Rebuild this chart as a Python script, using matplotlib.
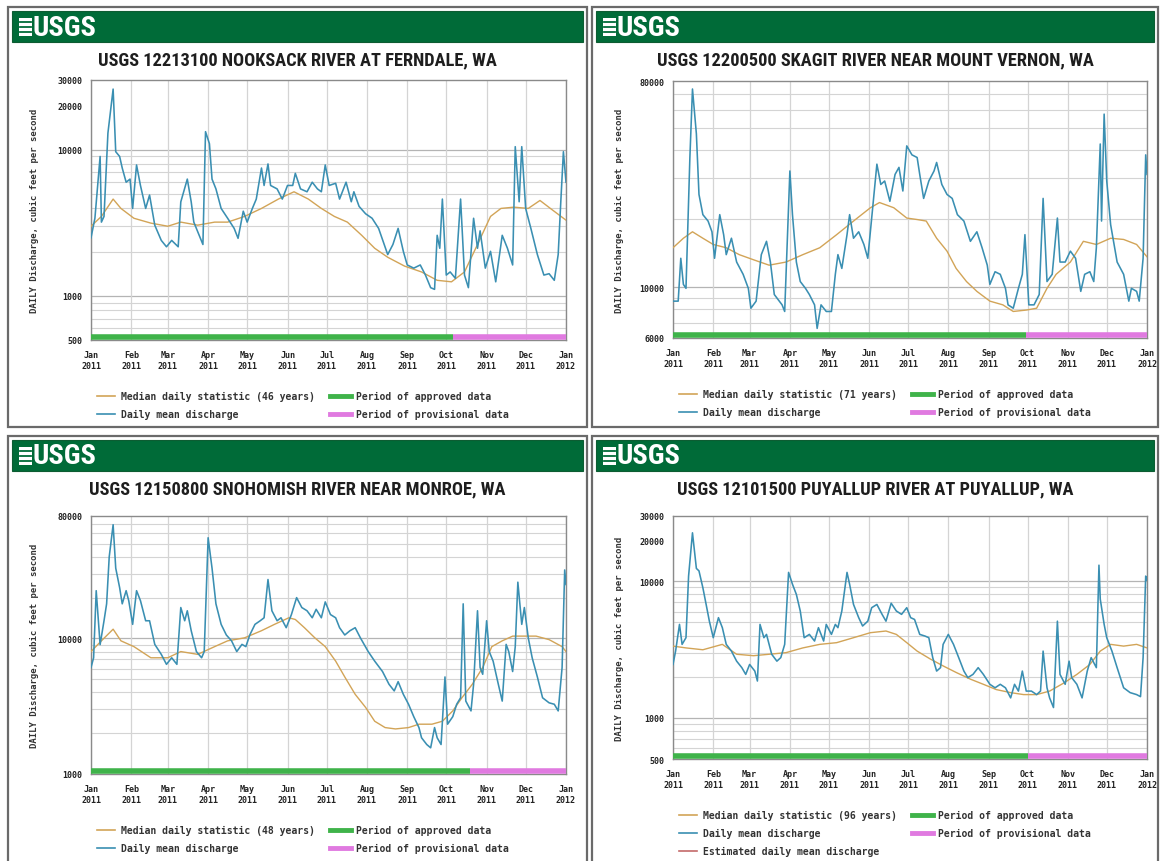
import numpy as np
import matplotlib
matplotlib.use("Agg")
import matplotlib.pyplot as plt
from matplotlib.patches import Rectangle
from matplotlib.lines import Line2D
from matplotlib.ticker import FixedLocator, LogLocator, NullFormatter
from matplotlib import font_manager

# ---------------------------------------------------------------- data
month_days = [0, 31, 59, 90, 120, 151, 181, 212, 243, 273, 304, 334, 365]
month_labels = ['Jan\n2011', 'Feb\n2011', 'Mar\n2011', 'Apr\n2011', 'May\n2011',
                'Jun\n2011', 'Jul\n2011', 'Aug\n2011', 'Sep\n2011', 'Oct\n2011',
                'Nov\n2011', 'Dec\n2011', 'Jan\n2012']

# Nooksack River at Ferndale
nooksack_title = 'USGS 12213100 NOOKSACK RIVER AT FERNDALE, WA'
nooksack_years = 46
nooksack_ylim = (500, 30000)
nooksack_yticks = [500, 1000, 10000, 20000, 30000]
nooksack_days = [0, 3, 7, 8, 10, 13, 17, 19, 22, 24, 27, 30, 32, 35, 38, 42, 45, 49, 54, 58,
                 62, 67, 69, 74, 77, 79, 86, 88, 91, 93, 96, 100, 105, 110, 113, 117, 120, 124, 127, 131,
                 133, 136, 138, 143, 147, 151, 155, 157, 161, 166, 170, 174, 177, 180, 183, 188, 191, 196, 200, 202,
                 206, 211, 216, 221, 228, 232, 236, 240, 243, 248, 253, 257, 261, 264, 266, 268, 270, 273, 276, 280,
                 284, 287, 290, 294, 297, 299, 303, 307, 311, 316, 320, 324, 326, 329, 331, 334, 338, 343, 348, 352,
                 356, 359, 361, 363, 365]
nooksack_flow = [2500, 3400, 9000, 3200, 3500, 13000, 26000, 9700, 9000, 7500,
                 6000, 6300, 3970, 7870, 5700, 3970, 4900, 3050, 2400, 2170,
                 2400, 2170, 4400, 6300, 4400, 3200, 2250, 13300, 11000, 6300,
                 5400, 3970, 3400, 2900, 2480, 3800, 3200, 3970, 4600, 7500,
                 5700, 8000, 5700, 5400, 4600, 5700, 5700, 6900, 5400, 5160,
                 6000, 5400, 5160, 7870, 5700, 5900, 4600, 6000, 4410, 5160,
                 4100, 3650, 3400, 2900, 1920, 2250, 2900, 2020, 1630, 1550,
                 1630, 1390, 1140, 1110, 2600, 2120, 4600, 1390, 1460, 1320,
                 4600, 1390, 1140, 3400, 2120, 2790, 1550, 2020, 1250, 2600,
                 2120, 1630, 10500, 4410, 10500, 3970, 2900, 1920, 1390, 1420,
                 1280, 1920, 4410, 9700, 6000]
nooksack_median_days = [0, 8, 17, 23, 33, 46, 59, 69, 82, 95, 105, 118, 131, 144, 156, 167, 177, 187,
                        197, 208, 218, 228, 241, 254, 266, 277, 287, 297, 307, 315, 325, 336, 345, 353, 365]
nooksack_median = [3000, 3500, 4600, 3970, 3400, 3150, 3000, 3200, 3050, 3200, 3200, 3500, 3970, 4600,
                   5160, 4600, 3970, 3500, 3200, 2600, 2120, 1840, 1600, 1460, 1280, 1250, 1460, 2250,
                   3500, 3970, 4050, 3970, 4500, 3970, 3300]
nooksack_approved_end = 278

# Skagit River near Mount Vernon
skagit_title = 'USGS 12200500 SKAGIT RIVER NEAR MOUNT VERNON, WA'
skagit_years = 71
skagit_ylim = (6000, 80000)
skagit_yticks = [6000, 10000, 80000]
skagit_days = [0, 4, 6, 8, 10, 13, 15, 18, 20, 23, 27, 30, 32, 36, 39, 41, 45, 49, 54, 58,
               60, 64, 68, 72, 75, 78, 84, 86, 90, 92, 95, 98, 102, 105, 109, 111, 114, 118, 122, 125,
               127, 130, 134, 136, 139, 143, 147, 150, 153, 157, 160, 163, 167, 171, 174, 177, 180, 184, 188, 190,
               193, 197, 201, 203, 207, 211, 215, 219, 224, 229, 234, 238, 242, 244, 248, 252, 256, 258, 262, 266,
               269, 271, 274, 278, 282, 285, 288, 292, 296, 298, 302, 306, 310, 314, 317, 321, 324, 326, 329, 330,
               332, 334, 337, 342, 347, 351, 353, 357, 359, 362, 364, 365]
skagit_flow = [8700, 8700, 13400, 10300, 9900, 37000, 73800, 47000, 25500, 20800,
               19500, 17500, 13400, 20800, 17000, 13900, 16400, 12900, 11400, 9900,
               8100, 8700, 13900, 15900, 12900, 9300, 8380, 7840, 32300, 20800,
               12900, 10600, 9900, 9300, 8380, 6610, 8380, 7840, 7840, 11400,
               13900, 12100, 17000, 20800, 16400, 17500, 15400, 13400, 20100, 34600,
               28200, 29200, 23800, 31200, 33500, 26400, 41600, 38000, 37000, 31200,
               24500, 29200, 32300, 35200, 28200, 25500, 24500, 20800, 19500, 15900,
               17500, 14900, 12500, 10300, 11700, 11400, 9900, 8380, 8100, 9900,
               11400, 17000, 8380, 8380, 9300, 24500, 10600, 11400, 20100, 12900,
               12900, 14400, 13400, 9600, 11400, 11700, 10600, 14900, 42400, 19500,
               57300, 29200, 18800, 12900, 11400, 8700, 9900, 9600, 8700, 13400,
               38000, 31200]
skagit_median_days = [0, 8, 15, 23, 31, 41, 51, 62, 74, 87, 100, 113, 126, 139, 152, 159, 170, 180, 188,
                      195, 203, 211, 218, 226, 234, 244, 254, 262, 272, 280, 288, 295, 306, 316, 326,
                      337, 347, 357, 365]
skagit_median = [14900, 16400, 17500, 16400, 15400, 14900, 13900, 13200, 12500, 12900, 13900, 14900,
                 17000, 19500, 22300, 23500, 22300, 20100, 19800, 19500, 16400, 14400, 12100, 10600,
                 9600, 8700, 8380, 7840, 7950, 8100, 9900, 11400, 12900, 15900, 15400, 16400, 16200,
                 15400, 13600]
skagit_approved_end = 272

# Snohomish River near Monroe
snohomish_title = 'USGS 12150800 SNOHOMISH RIVER NEAR MONROE, WA'
snohomish_years = 48
snohomish_ylim = (1000, 80000)
snohomish_yticks = [1000, 10000, 80000]
snohomish_days = [0, 2, 4, 7, 10, 12, 14, 17, 19, 22, 24, 27, 29, 32, 35, 38, 42, 45, 49, 54,
                  58, 62, 66, 69, 72, 74, 77, 81, 85, 87, 90, 93, 96, 100, 104, 108, 112, 116, 119, 122,
                  126, 130, 133, 136, 139, 143, 146, 150, 154, 158, 162, 166, 170, 173, 177, 180, 184, 188, 191, 195,
                  199, 203, 207, 213, 218, 224, 229, 233, 236, 240, 244, 248, 252, 254, 258, 261, 264, 266, 269, 272,
                  274, 278, 281, 284, 286, 288, 292, 294, 297, 299, 301, 304, 306, 309, 313, 316, 319, 321, 324, 326,
                  328, 331, 333, 336, 339, 343, 347, 352, 356, 359, 362, 364, 365]
snohomish_flow = [6100, 7200, 22500, 9000, 13500, 18000, 40000, 69000, 33000, 23700,
                  18000, 22500, 19000, 12700, 22500, 19000, 13500, 13500, 9040, 7630,
                  6440, 7200, 6440, 16900, 13500, 16000, 11400, 8000, 7200, 8000,
                  55300, 33000, 18000, 12700, 10600, 9600, 8000, 9040, 8700, 10600,
                  12700, 13500, 14200, 27200, 16000, 13500, 14200, 12000, 15000, 20000,
                  16900, 16000, 14200, 16400, 14200, 18600, 15000, 14200, 12000, 10600,
                  11400, 12000, 10100, 8000, 6800, 5700, 4590, 4100, 4800, 3870,
                  3270, 2650, 2200, 1850, 1650, 1560, 2200, 1850, 1650, 5200,
                  2330, 2650, 3270, 3650, 18000, 3450, 2920, 4590, 16000, 6100,
                  5440, 13500, 8000, 6800, 4590, 3450, 9040, 8000, 5700, 8700,
                  26000, 12700, 16900, 10100, 7200, 5200, 3650, 3350, 3270, 2920,
                  6100, 32000, 25000]
snohomish_median_days = [0, 8, 17, 23, 33, 46, 59, 69, 82, 95, 105, 118, 131, 141, 152, 157, 164, 172,
                         180, 188, 195, 203, 211, 218, 226, 234, 244, 252, 262, 270, 278, 285, 293, 301,
                         308, 316, 324, 331, 342, 352, 362, 365]
snohomish_median = [8000, 9600, 11700, 9600, 8700, 7200, 7200, 8000, 7630, 8700, 9600, 10100, 11400,
                    12700, 14200, 13800, 12000, 10100, 8700, 6800, 5200, 3870, 3100, 2450, 2200, 2150,
                    2200, 2330, 2330, 2450, 2920, 3650, 4590, 6100, 8700, 9600, 10400, 10400, 10400,
                    9800, 8700, 8000]
snohomish_approved_end = 291

# Puyallup River at Puyallup
puyallup_title = 'USGS 12101500 PUYALLUP RIVER AT PUYALLUP, WA'
puyallup_years = 96
puyallup_ylim = (500, 30000)
puyallup_yticks = [500, 1000, 10000, 20000, 30000]
puyallup_days = [0, 2, 5, 7, 10, 12, 15, 18, 20, 23, 26, 28, 31, 35, 38, 41, 45, 49, 53, 56,
                 59, 63, 65, 67, 70, 72, 76, 80, 83, 86, 89, 92, 95, 98, 101, 105, 109, 112, 116, 118,
                 122, 125, 127, 130, 134, 136, 139, 143, 146, 150, 153, 157, 161, 164, 168, 172, 176, 180, 183, 186,
                 190, 194, 197, 200, 203, 206, 208, 212, 216, 220, 224, 227, 231, 235, 239, 244, 248, 252, 256, 260,
                 263, 266, 269, 272, 276, 280, 283, 285, 288, 290, 293, 296, 298, 302, 305, 307, 311, 315, 319, 322,
                 326, 328, 329, 332, 334, 338, 342, 347, 352, 357, 360, 362, 364, 365]
puyallup_flow = [2460, 3080, 4830, 3450, 3860, 10900, 22600, 12400, 11900, 8960,
                 6400, 5100, 3860, 5410, 4570, 3450, 3080, 2600, 2330, 2080,
                 2460, 2200, 1860, 4830, 3860, 4080, 2920, 2600, 2760, 3450,
                 11600, 9500, 8000, 6050, 3860, 4080, 3650, 4570, 3650, 4830,
                 4080, 4830, 4570, 6050, 11600, 9500, 6760, 5410, 4700, 5100,
                 6400, 6760, 5720, 5100, 6900, 6050, 5720, 6400, 5410, 5250,
                 4080, 3970, 3860, 2760, 2200, 2330, 3450, 4080, 3450, 2760,
                 2200, 1970, 2080, 2330, 2080, 1760, 1660, 1760, 1660, 1400,
                 1760, 1570, 2200, 1570, 1570, 1480, 1570, 3080, 1660, 1400,
                 1190, 5100, 2080, 1760, 2600, 1970, 1760, 1400, 2200, 2760,
                 2330, 13100, 7400, 4830, 3860, 3080, 2330, 1660, 1530, 1480,
                 1430, 2760, 10900, 10200]
puyallup_median_days = [0, 10, 23, 38, 49, 62, 74, 87, 100, 113, 126, 139, 152, 164, 172, 180, 188, 198,
                        208, 218, 229, 239, 249, 260, 270, 280, 290, 301, 311, 321, 329, 337, 347, 357, 365]
puyallup_median = [3350, 3250, 3150, 3450, 2920, 2850, 2920, 3000, 3250, 3450, 3550, 3860, 4200, 4320,
                   4080, 3550, 3080, 2700, 2400, 2150, 1920, 1760, 1610, 1530, 1480, 1480, 1570, 1800,
                   2080, 2460, 3080, 3450, 3350, 3450, 3250]
puyallup_approved_end = 273

# ---------------------------------------------------------------- style
W, H = 1160, 862
fig = plt.figure(figsize=(W / 100, H / 100), dpi=100)
fig.patch.set_facecolor('white')

# pick a condensed sans for titles/logo if one is installed
_entries = font_manager.fontManager.ttflist
_names = {f.name for f in _entries}
NARROW, NARROW_STRETCH, NARROW_OK = 'Roboto', 'normal', False
for cand in ('Liberation Sans Narrow', 'Roboto Condensed', 'Open Sans Condensed',
             'Noto Sans Condensed', 'DejaVu Sans Condensed', 'Arial Narrow'):
    if cand in _names:
        NARROW, NARROW_OK = cand, True
        break
if not NARROW_OK:
    for f in _entries:
        if f.name in ('Noto Sans', 'Open Sans', 'DejaVu Sans', 'Roboto') and \
                str(f.stretch) in ('condensed', 'semi-condensed', 'extra-condensed'):
            NARROW, NARROW_STRETCH, NARROW_OK = f.name, f.stretch, True
            break
if not NARROW_OK and 'Roboto' not in _names:
    NARROW = 'DejaVu Sans'
TITLE_SIZE = 13.2 if NARROW_OK else (10.6 if NARROW == 'Roboto' else 9.8)
LOGO_SIZE = 20.5 if NARROW_OK else 16
MONO = 'DejaVu Sans Mono'

GREEN_HDR = '#006b38'
FLOW_C = '#3a8fb2'
MEDIAN_C = '#d2a457'
EST_C = '#c46a6a'
APPROVED_C = '#3fb34a'
PROVISIONAL_C = '#e07ae0'
GRID_C = '#d4d4d4'
GRID_MAJ_C = '#b4b4b4'


def fig_rect(x, y, w, h, z=1, **kw):
    fig.add_artist(Rectangle((x / W, 1 - (y + h) / H), w / W, h / H,
                             transform=fig.transFigure, zorder=z, **kw))


def fig_hline(x0, x1, y, z=2, **kw):
    fig.add_artist(Line2D([x0 / W, x1 / W], [1 - y / H, 1 - y / H],
                          transform=fig.transFigure, zorder=z, **kw))


def fig_text(x, y, s, **kw):
    fig.text(x / W, 1 - y / H, s, zorder=3, **kw)


def draw_panel(frame, plot, title, years, ylim, yticks, days, flow,
               mdays, med, approved_end, estimated=False):
    fx, fy, fw, fh = frame
    fig_rect(fx, fy, fw, fh, z=0.5, facecolor='white', edgecolor='#6a6a6a', lw=1.6)
    # header band with logo
    fig_rect(fx + 4, fy + 4, fw - 8, 31, facecolor=GREEN_HDR, edgecolor='#0d5c32', lw=0.8)
    fig_rect(fx + 11, fy + 11, 13, 18, z=2, facecolor='white', edgecolor='none')
    for k in range(3):
        fig_hline(fx + 12, fx + 23, fy + 15 + k * 5, z=2.5, color=GREEN_HDR, lw=1.3)
    fig_text(fx + 25, fy + 20, 'USGS', color='white', fontsize=LOGO_SIZE, fontweight='bold',
             family=NARROW, fontstretch=NARROW_STRETCH, ha='left', va='center')
    # title
    fig_text(fx + fw / 2, fy + 52, title, color='#1e1e1e', fontsize=TITLE_SIZE, fontweight='bold',
             family=NARROW, fontstretch=NARROW_STRETCH, ha='center', va='center')

    px, py, pw, ph = plot
    ax = fig.add_axes([px / W, 1 - (py + ph) / H, pw / W, ph / H])
    ax.set_zorder(5)
    ax.set_facecolor('white')
    ax.set_yscale('log')
    ax.set_xlim(month_days[0], month_days[-1])
    ax.set_ylim(*ylim)

    ax.yaxis.set_major_locator(FixedLocator(yticks))
    ax.set_yticklabels([str(v) for v in yticks])
    ax.yaxis.set_minor_locator(LogLocator(base=10, subs=range(2, 10)))
    ax.yaxis.set_minor_formatter(NullFormatter())
    ax.set_xticks(month_days)
    ax.set_xticklabels(month_labels)
    ax.tick_params(axis='both', which='both', length=0)
    ax.tick_params(axis='x', pad=7)
    ax.tick_params(axis='y', pad=6)
    for lab in ax.get_xticklabels() + ax.get_yticklabels():
        lab.set_fontfamily(MONO)
        lab.set_fontweight('bold')
        lab.set_fontsize(6)
        lab.set_color('#222222')
        lab.set_linespacing(1.3)

    # grid
    ax.grid(True, which='minor', axis='y', color=GRID_C, lw=0.8)
    for dec in (1000, 10000, 100000):
        if ylim[0] < dec < ylim[1]:
            ax.axhline(dec, color=GRID_MAJ_C, lw=0.9, zorder=0.5)
    ax.grid(True, which='major', axis='x', color=GRID_C, lw=0.9)
    ax.set_axisbelow(True)
    for sp in ax.spines.values():
        sp.set_color('#8a8a8a')
        sp.set_linewidth(1.0)

    ax.plot(mdays, med, color=MEDIAN_C, lw=1.0, zorder=3)
    ax.plot(days, flow, color=FLOW_C, lw=1.15, zorder=4)

    tr = ax.get_xaxis_transform()
    ax.plot([month_days[0], approved_end], [0.013, 0.013], transform=tr, color=APPROVED_C,
            lw=4, solid_capstyle='butt', clip_on=False, zorder=5)
    ax.plot([approved_end, month_days[-1]], [0.013, 0.013], transform=tr, color=PROVISIONAL_C,
            lw=4, solid_capstyle='butt', clip_on=False, zorder=5)

    # y label
    fig_text(fx + 27, py + ph / 2, 'DAILY Discharge, cubic feet per second', rotation=90,
             fontsize=6.5, fontweight='bold', family=MONO, color='#333333',
             ha='center', va='center')

    # legend
    left_items = [(MEDIAN_C, 'Median daily statistic (%d years)' % years),
                  (FLOW_C, 'Daily mean discharge')]
    if estimated:
        left_items.append((EST_C, 'Estimated daily mean discharge'))
    right_items = [(APPROVED_C, 'Period of approved data'),
                   (PROVISIONAL_C, 'Period of provisional data')]
    ly0 = py + ph + 56
    for i, (c, s) in enumerate(left_items):
        y = ly0 + i * 18
        fig_hline(px + 6, px + 24, y, color=c, lw=1.2)
        fig_text(px + 30, y, s, fontsize=7, fontweight='bold', family=MONO,
                 color='#333333', ha='left', va='center')
    for i, (c, s) in enumerate(right_items):
        y = ly0 + i * 18
        fig_hline(px + 239, px + 260, y, color=c, lw=3.5)
        fig_text(px + 265, y, s, fontsize=7, fontweight='bold', family=MONO,
                 color='#333333', ha='left', va='center')
    return ax


draw_panel((8, 8, 579, 420), (91, 81, 475, 260), nooksack_title, nooksack_years,
           nooksack_ylim, nooksack_yticks, nooksack_days, nooksack_flow,
           nooksack_median_days, nooksack_median, nooksack_approved_end)
draw_panel((592, 8, 566, 420), (673, 82, 474, 257), skagit_title, skagit_years,
           skagit_ylim, skagit_yticks, skagit_days, skagit_flow,
           skagit_median_days, skagit_median, skagit_approved_end)
draw_panel((8, 437, 579, 430), (91, 517, 475, 258), snohomish_title, snohomish_years,
           snohomish_ylim, snohomish_yticks, snohomish_days, snohomish_flow,
           snohomish_median_days, snohomish_median, snohomish_approved_end)
draw_panel((592, 437, 566, 430), (673, 517, 474, 243), puyallup_title, puyallup_years,
           puyallup_ylim, puyallup_yticks, puyallup_days, puyallup_flow,
           puyallup_median_days, puyallup_median, puyallup_approved_end, estimated=True)

fig.savefig('out.png', dpi=100)
